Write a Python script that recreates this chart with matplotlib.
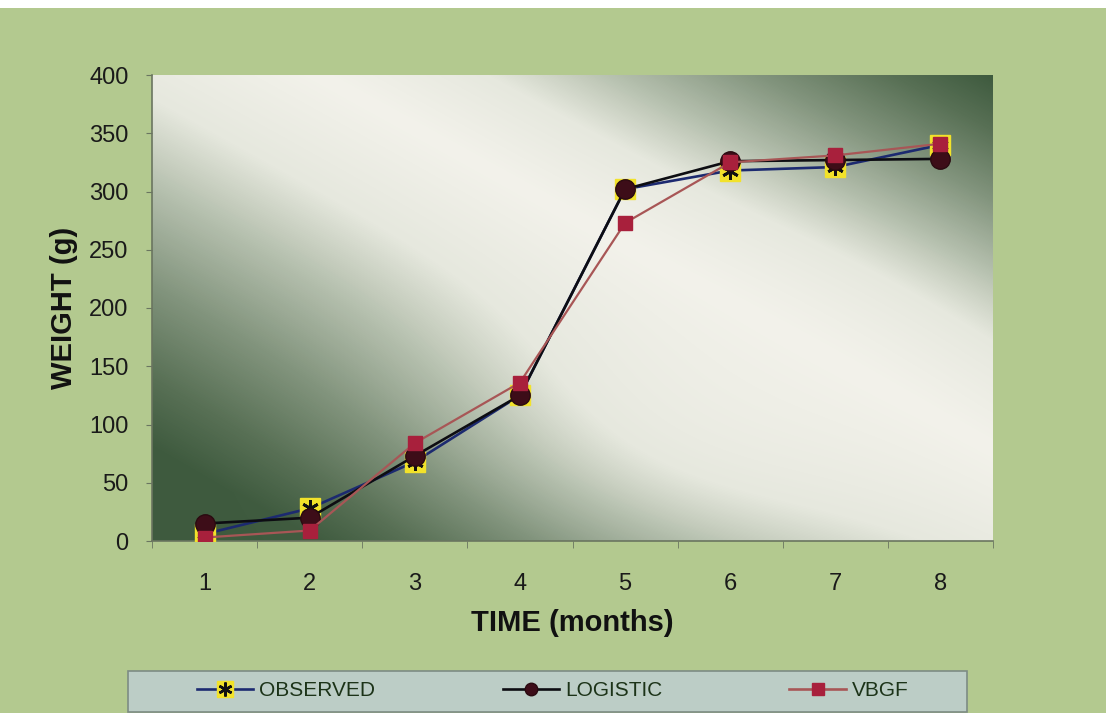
import numpy as np
import matplotlib
matplotlib.use("Agg")
import matplotlib.pyplot as plt
from matplotlib.colors import LinearSegmentedColormap
from matplotlib.lines import Line2D
from matplotlib.patches import Rectangle

plt.rcParams['font.family'] = ['Liberation Sans', 'DejaVu Sans']

# monthly weights (g): observed and the two fitted growth models
months = [1, 2, 3, 4, 5, 6, 7, 8]
observed = [6, 28, 68, 125, 302, 318, 321, 340]
logistic = [15, 20, 73, 125, 302, 326, 327, 328]
vbgf = [3, 9, 84, 136, 273, 325, 331, 341]
y_ticks = [0, 50, 100, 150, 200, 250, 300, 350, 400]

W, H = 1106, 713
fig = plt.figure(figsize=(W / 100, H / 100), dpi=100)
fig.patch.set_facecolor('#b3c98f')
# white strip along the top edge
fig.patches.append(Rectangle((0, 1 - 8 / H), 1, 8 / H, transform=fig.transFigure,
                             facecolor='white', edgecolor='none', zorder=0))

ax = fig.add_axes([152 / W, 1 - 541 / H, 841 / W, 466 / H])
ax.set_xlim(0.5, 8.5)
ax.set_ylim(0, 400)

# plot-area shading: diagonal gradient, darker towards the lower-left and upper-right
# corners, with a lighter patch right of centre
px, py = np.meshgrid(np.arange(841), np.arange(466))
u = (px / 840 + (465 - py) / 465) / 2
dark = np.where(u < 0.6, (0.6 - u) / 0.5, (u - 0.6) / 0.4)
glow = np.exp(-((px - 570) / 250) ** 2 - ((py - 330) / 150) ** 2)
dark = np.clip(dark, 0, 1) * (1 - 0.5 * glow)
shade = LinearSegmentedColormap.from_list('shade', [
    (0.0, '#f3f2eb'), (0.25, '#e6e8de'), (0.45, '#b2bdab'),
    (0.65, '#82947d'), (0.85, '#587055'), (1.0, '#3e5a3e')])
ax.imshow(dark, cmap=shade, origin='upper', aspect='auto', extent=(0, 1, 0, 1),
          transform=ax.transAxes, zorder=0, vmin=0, vmax=1, interpolation='bilinear')

# observed: yellow square with a black asterisk on top
ax.plot(months, observed, color='#1c2a70', lw=1.9, marker='s', ms=15,
        mfc='#f2e22a', mec='#f2e22a', zorder=3)
ax.plot(months, observed, ls='none', marker=(6, 2, 0), ms=12, mec='#111111',
        mew=2, zorder=3.1)
ax.plot(months, logistic, color='#0d0d12', lw=1.9, marker='o', ms=14,
        mfc='#3d0d18', mec='#2a0a10', zorder=4)
ax.plot(months, vbgf, color='#a85656', lw=1.6, marker='s', ms=10,
        mfc='#a8203c', mec='#a8203c', zorder=5)

ax.set_xticks(months)
ax.set_xticks(np.arange(0.5, 9, 1), minor=True)
ax.set_yticks(y_ticks)
ax.tick_params(axis='x', which='major', length=0, pad=23, labelsize=17, labelcolor='#1a1a1a')
ax.tick_params(axis='x', which='minor', length=5, direction='out', color='#6a7560')
ax.tick_params(axis='y', length=4, direction='out', color='#6a7560', pad=13,
               labelsize=17, labelcolor='#1a1a1a')

for side in ['top', 'right']:
    ax.spines[side].set_visible(False)
for side in ['left', 'bottom']:
    ax.spines[side].set_color('#6a7560')
    ax.spines[side].set_linewidth(1.2)

ax.set_xlabel('TIME (months)', fontsize=21, fontweight='bold', color='#111111', labelpad=10)
ax.set_ylabel('WEIGHT (g)', fontsize=21, fontweight='bold', color='#111111', labelpad=8)

# legend box along the bottom
fig.patches.append(Rectangle((128 / W, 1 / H), 839 / W, 41 / H, transform=fig.transFigure,
                             facecolor='#bccdc6', edgecolor='#7d8c84', lw=1.2, zorder=1))
handles = [
    (Line2D([], [], color='#1c2a70', lw=1.9, marker='s', ms=12, mfc='#f2e22a', mec='#f2e22a'),
     Line2D([], [], ls='none', marker=(6, 2, 0), ms=10, mec='#111111', mew=1.8)),
    Line2D([], [], color='#0d0d12', lw=1.9, marker='o', ms=9, mfc='#3d0d18', mec='#2a0a10'),
    Line2D([], [], color='#a85656', lw=1.9, marker='s', ms=9, mfc='#a8203c', mec='#a8203c'),
]
leg = fig.legend(handles, ['OBSERVED', 'LOGISTIC', 'VBGF'], ncol=3,
                 loc='center left', bbox_to_anchor=(197 / W, 1 - 691 / H),
                 frameon=False, fontsize=15, handlelength=2.7, handletextpad=0.3,
                 columnspacing=6.1, borderaxespad=0, borderpad=0)
for txt in leg.get_texts():
    txt.set_color('#1c3318')

fig.savefig('out.png', dpi=100, facecolor=fig.get_facecolor())
